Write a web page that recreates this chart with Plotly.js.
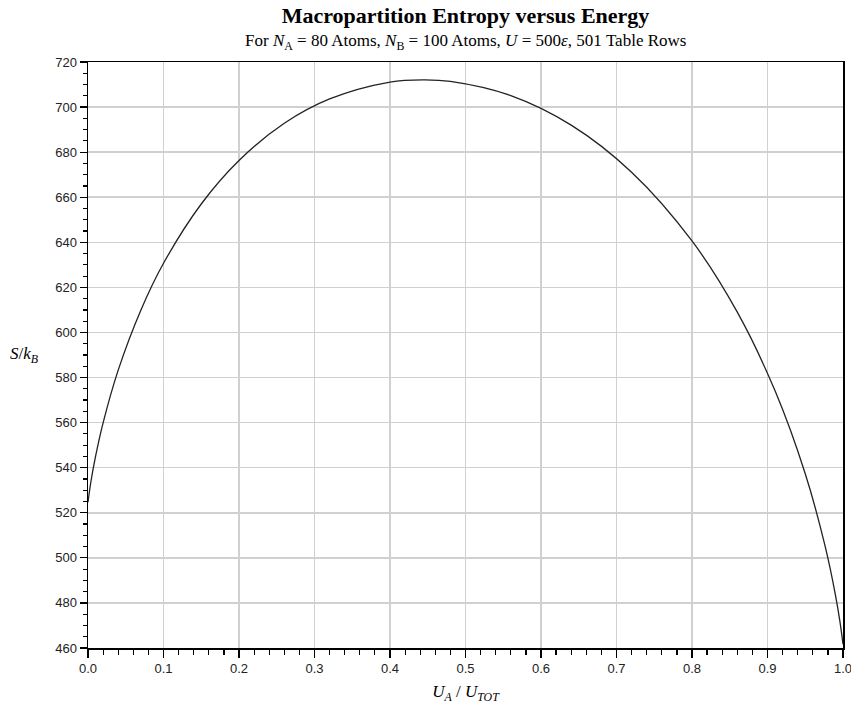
<!DOCTYPE html>
<html>
<head>
<meta charset="utf-8">
<script src="https://cdn.plot.ly/plotly-3.0.1.min.js"></script>
<style>
  html, body { margin: 0; padding: 0; background: #fff; }
  #chart { width: 851px; height: 711px; }
</style>
</head>
<body>
<div id="chart"></div>
<script>
// Energy fraction U_A / U_TOT (table rows sampled)
const energyFraction = [0, 0.004, 0.01, 0.02, 0.04, 0.07, 0.1, 0.15, 0.2, 0.26, 0.32, 0.4, 0.444, 0.48,
  0.56, 0.64, 0.72, 0.8, 0.86, 0.91, 0.95, 0.976, 0.99, 0.996, 1.0];
// Entropy S/k_B
const entropy = [524.7, 534.1, 545.0, 559.9, 583.3, 609.9, 630.7, 657.0, 676.3, 692.8, 703.6, 711.1, 712.1, 711.4,
  705.1, 692.0, 671.1, 640.6, 609.0, 574.1, 537.3, 505.6, 483.5, 471.6, 461.7];

const yTicks = [460, 480, 500, 520, 540, 560, 580, 600, 620, 640, 660, 680, 700, 720];
const xTicks = [0, 0.1, 0.2, 0.3, 0.4, 0.5, 0.6, 0.7, 0.8, 0.9, 1.0];

const serif = "Liberation Serif, Times New Roman, serif";
const sans = "Liberation Sans, Arial, sans-serif";

const trace = {
  x: energyFraction,
  y: entropy,
  type: 'scatter',
  mode: 'lines',
  line: { color: '#222', width: 1.3, shape: 'spline', smoothing: 1 },
  hoverinfo: 'x+y'
};

const layout = {
  width: 851,
  height: 711,
  margin: { l: 88, r: 8, t: 62, b: 63 },
  paper_bgcolor: '#fff',
  plot_bgcolor: '#fff',
  showlegend: false,
  title: {
    text: '<b>Macropartition Entropy versus Energy</b>',
    font: { family: serif, size: 22, color: '#000' },
    x: 0.5, xanchor: 'center', xref: 'paper',
    y: 0.978, yanchor: 'middle', yref: 'container'
  },
  annotations: [
    {
      text: 'For <i>N</i><sub>A</sub> = 80 Atoms, <i>N</i><sub>B</sub> = 100 Atoms, <i>U</i> = 500<i>ε</i>, 501 Table Rows',
      xref: 'paper', yref: 'paper', x: 0.5, y: 1.0, xanchor: 'center', yanchor: 'bottom',
      yshift: 7, showarrow: false,
      font: { family: serif, size: 17, color: '#000' }
    },
    {
      text: '<i>S</i>/<i>k</i><sub><i>B</i></sub>',
      xref: 'paper', yref: 'paper', x: 0, y: 0.5, xanchor: 'right', yanchor: 'middle',
      xshift: -48, showarrow: false,
      font: { family: serif, size: 17, color: '#000' }
    }
  ],
  xaxis: {
    range: [0, 1],
    tickvals: xTicks,
    ticktext: xTicks.map(v => v.toFixed(1)),
    tickfont: { family: sans, size: 13, color: '#222' },
    ticklabeloverflow: 'allow',
    ticks: 'outside', ticklen: 8, tickwidth: 1.2, tickcolor: '#000',
    minor: { dtick: 0.02, ticks: 'outside', ticklen: 5, tickwidth: 1.2, tickcolor: '#000', showgrid: false },
    showline: true, linecolor: '#000', linewidth: 1.5, mirror: true,
    showgrid: true, gridcolor: '#d0d0d0', gridwidth: 1.5,
    zeroline: false,
    title: {
      text: '<i>U</i><sub><i>A</i></sub> / <i>U</i><sub><i>TOT</i></sub>',
      font: { family: serif, size: 17, color: '#000' },
      standoff: 10
    }
  },
  yaxis: {
    range: [460, 720],
    tickvals: yTicks,
    tickfont: { family: sans, size: 13, color: '#222' },
    ticks: 'outside', ticklen: 7, tickwidth: 1.2, tickcolor: '#000',
    minor: { dtick: 5, ticks: 'outside', ticklen: 4, tickwidth: 1.2, tickcolor: '#000', showgrid: false },
    showline: true, linecolor: '#000', linewidth: 1.5, mirror: true,
    showgrid: true, gridcolor: '#d0d0d0', gridwidth: 1.5,
    zeroline: false
  }
};

Plotly.newPlot('chart', [trace], layout, { displayModeBar: false, staticPlot: true });
</script>
</body>
</html>
